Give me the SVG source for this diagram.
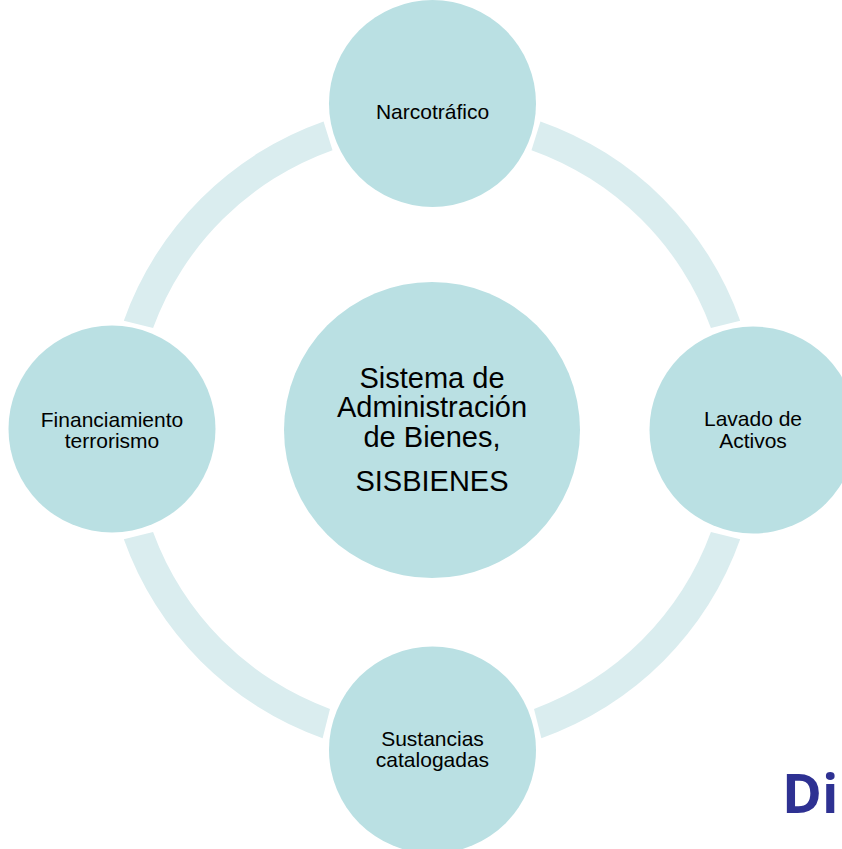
<svg xmlns="http://www.w3.org/2000/svg" width="842" height="849" viewBox="0 0 842 849">
  <style>
    .node { fill: #BAE0E3; }
    .arc { fill: #DAEDEF; }
    .lbl { font-family: "Liberation Sans", Arial, sans-serif; font-size: 21px; fill: #000000; text-anchor: middle; }
    .big { font-family: "Liberation Sans", Arial, sans-serif; font-size: 29px; fill: #000000; text-anchor: middle; }
    .title { font-family: "Open Sans", "Liberation Sans", sans-serif; font-size: 54px; font-weight: bold; fill: #2E3192; }
  </style>
  <rect width="842" height="849" fill="#FFFFFF"/>
  <g id="connectors">
    <path class="arc" d="M 540.45 121.51 A 327 327 0 0 1 740.17 320.63 L 710.92 327.99 A 297 297 0 0 0 531.48 150.16 Z"/>
    <path class="arc" d="M 740.17 539.37 A 327 327 0 0 1 541.37 738.17 L 534.01 708.92 A 297 297 0 0 0 710.92 532.01 Z"/>
    <path class="arc" d="M 322.63 738.17 A 327 327 0 0 1 123.83 539.37 L 153.08 532.01 A 297 297 0 0 0 329.99 708.92 Z"/>
    <path class="arc" d="M 123.83 320.63 A 327 327 0 0 1 323.55 121.51 L 332.52 150.16 A 297 297 0 0 0 153.08 327.99 Z"/>
  </g>
  <g id="center">
    <circle class="node" cx="432" cy="430" r="148"/>
    <text class="big" x="432" y="388">Sistema de</text>
    <text class="big" x="432" y="417">Administración</text>
    <text class="big" x="432" y="446.5">de Bienes,</text>
    <text class="big" x="432" y="490.5">SISBIENES</text>
  </g>
  <g id="narcotrafico">
    <circle class="node" cx="432.5" cy="103.5" r="103.5"/>
    <text class="lbl" x="432.5" y="119">Narcotráfico</text>
  </g>
  <g id="lavado">
    <circle class="node" cx="753" cy="430" r="103.5"/>
    <text class="lbl" x="753" y="426">Lavado de</text>
    <text class="lbl" x="753" y="447.5">Activos</text>
  </g>
  <g id="sustancias">
    <circle class="node" cx="432.5" cy="750" r="103.5"/>
    <text class="lbl" x="432.5" y="746">Sustancias</text>
    <text class="lbl" x="432.5" y="767">catalogadas</text>
  </g>
  <g id="financiamiento">
    <circle class="node" cx="112" cy="429" r="103.5"/>
    <text class="lbl" x="112" y="426.5">Financiamiento</text>
    <text class="lbl" x="112" y="448">terrorismo</text>
  </g>
  <g id="title">
    <text class="title" x="782" y="813">Dir</text>
  </g>
</svg>
